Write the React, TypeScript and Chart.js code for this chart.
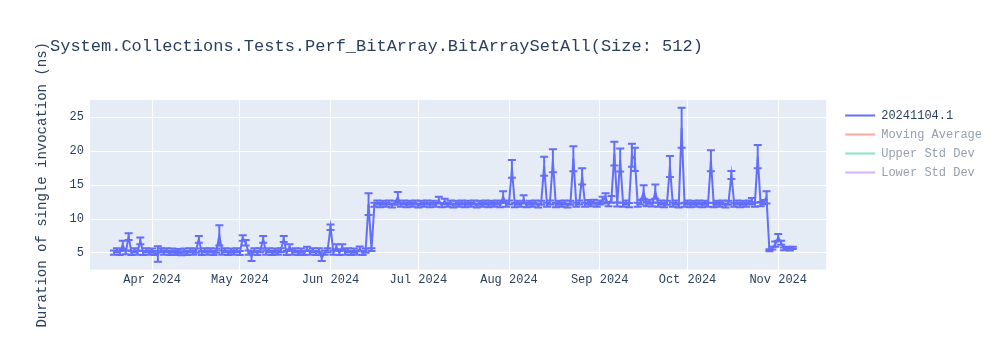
import React, { useEffect, useRef } from "react";
import { Chart, registerables } from "chart.js";

Chart.register(...registerables);

const FONT = "'Liberation Mono', 'Courier New', monospace";
const TEXT_COLOR = "#2a3f5f";

const chartTitle = "System.Collections.Tests.Perf_BitArray.BitArraySetAll(Size: 512)";
const yAxisTitle = "Duration of single invocation (ns)";

// one run per day, starting at this date
const firstRunDate = "2024-03-19";
const xRangeStart = "2024-03-10T19:12:00Z";
const xRangeEnd = "2024-11-17T09:36:00Z";

const monthTickDates = [
  "2024-04-01", "2024-05-01", "2024-06-01", "2024-07-01",
  "2024-08-01", "2024-09-01", "2024-10-01", "2024-11-01",
];
const monthTickLabels = [
  "Apr 2024", "May 2024", "Jun 2024", "Jul 2024",
  "Aug 2024", "Sep 2024", "Oct 2024", "Nov 2024",
];

const yMin = 2.55;
const yMax = 27.55;
const yTicks = [5, 10, 15, 20, 25];

// duration (ns) per daily run
const durations = [
  5.05, 5.4, 5.0, 6.2, 5.1, 7.4, 5.0, 5.4, 5.05, 6.8,
  5.0, 5.4, 5.05, 5.35, 5.0, 4.85, 5.4, 5.05, 5.4, 5.0,
  5.35, 5.0, 5.3, 4.95, 5.35, 5.0, 5.4, 5.05, 5.35, 7.0,
  5.0, 5.4, 5.05, 5.4, 5.0, 5.35, 7.6, 5.05, 5.4, 5.0,
  5.35, 5.05, 5.4, 5.0, 7.2, 6.5, 5.05, 4.5, 5.4, 5.0,
  5.4, 7.0, 5.05, 5.4, 5.0, 5.35, 5.05, 5.4, 7.05, 5.0,
  5.9, 5.05, 5.4, 5.0, 5.35, 5.0, 5.6, 5.05, 5.4, 5.0,
  5.4, 4.3, 5.05, 5.4, 8.8, 5.05, 5.9, 5.0, 5.9, 5.05,
  5.4, 5.0, 5.35, 5.05, 5.6, 5.0, 5.35, 12.2, 5.5,
  12.1, 12.45, 12.05, 12.4, 12.1, 12.45, 12.0, 12.4, 13.2, 12.1,
  12.45, 12.05, 12.4, 12.1, 12.45, 12.0, 12.4, 12.1, 12.45, 12.05,
  12.4, 12.1, 12.8, 12.05, 12.6, 12.1, 12.45, 12.0, 12.4, 12.1,
  12.45, 12.05, 12.4, 12.1, 12.45, 12.0, 12.4, 12.1, 12.45, 12.05,
  12.4, 12.1, 12.45, 12.05, 13.3, 12.1, 12.45, 17.4, 12.05, 12.4,
  12.1, 12.9, 12.05, 12.4, 12.1, 12.45, 12.0, 12.4, 17.8, 12.1,
  12.45, 18.6, 12.05, 12.4, 12.1, 12.45, 12.0, 12.4, 18.9, 12.1,
  12.45, 16.3, 12.1, 12.5, 12.2, 12.55, 12.1, 12.45, 12.8, 13.1,
  12.2, 12.9, 19.65, 12.15, 18.7, 12.1, 12.45, 12.05, 19.4, 18.8,
  12.1, 12.5, 14.0, 12.2, 12.55, 12.15, 14.05, 12.1, 12.45, 12.05,
  12.4, 17.75, 12.1, 12.45, 12.0, 23.45, 12.1, 12.45, 12.05, 12.4,
  12.1, 12.45, 12.05, 12.4, 12.1, 18.6, 12.05, 12.4, 12.1, 12.45,
  12.0, 12.4, 16.5, 12.1, 12.45, 12.05, 12.4, 12.1, 12.45, 12.7,
  12.1, 19.2, 12.2, 12.5, 13.2,
  5.4, 5.7, 6.3, 7.3, 6.5, 5.6, 5.75, 5.55, 5.75,
];

// standard deviation (error bar half-height) per daily run
const stdDevs = [
  0.3, 0.3, 0.3, 0.6, 0.3, 0.5, 0.3, 0.3, 0.3, 0.5,
  0.3, 0.3, 0.3, 0.3, 0.3, 1.15, 0.3, 0.3, 0.3, 0.3,
  0.3, 0.3, 0.3, 0.3, 0.3, 0.3, 0.3, 0.3, 0.3, 0.5,
  0.3, 0.3, 0.3, 0.3, 0.3, 0.3, 1.5, 0.3, 0.3, 0.3,
  0.3, 0.3, 0.3, 0.3, 0.4, 0.4, 0.3, 0.7, 0.3, 0.3,
  0.3, 0.5, 0.3, 0.3, 0.3, 0.3, 0.3, 0.3, 0.45, 0.3,
  0.4, 0.3, 0.3, 0.3, 0.3, 0.3, 0.3, 0.3, 0.3, 0.3,
  0.3, 0.5, 0.3, 0.3, 0.4, 0.3, 0.4, 0.3, 0.4, 0.3,
  0.3, 0.3, 0.3, 0.3, 0.35, 0.3, 0.3, 1.6, 0.2,
  0.3, 0.3, 0.3, 0.3, 0.3, 0.3, 0.3, 0.3, 0.8, 0.3,
  0.3, 0.3, 0.3, 0.3, 0.3, 0.3, 0.3, 0.3, 0.3, 0.3,
  0.3, 0.3, 0.5, 0.3, 0.4, 0.3, 0.3, 0.3, 0.3, 0.3,
  0.3, 0.3, 0.3, 0.3, 0.3, 0.3, 0.3, 0.3, 0.3, 0.3,
  0.3, 0.3, 0.3, 0.3, 0.8, 0.3, 0.3, 1.3, 0.3, 0.3,
  0.3, 0.6, 0.3, 0.3, 0.3, 0.3, 0.3, 0.3, 1.4, 0.3,
  0.3, 1.7, 0.3, 0.3, 0.3, 0.3, 0.3, 0.3, 1.85, 0.3,
  0.3, 1.2, 0.3, 0.3, 0.3, 0.3, 0.3, 0.3, 0.5, 0.7,
  0.3, 0.5, 1.75, 0.3, 1.7, 0.3, 0.3, 0.3, 1.7, 1.7,
  0.3, 0.3, 1.0, 0.3, 0.3, 0.3, 1.05, 0.3, 0.3, 0.3,
  0.3, 1.55, 0.3, 0.3, 0.3, 2.95, 0.3, 0.3, 0.3, 0.3,
  0.3, 0.3, 0.3, 0.3, 0.3, 1.55, 0.3, 0.3, 0.3, 0.3,
  0.3, 0.3, 0.6, 0.3, 0.3, 0.3, 0.3, 0.3, 0.3, 0.4,
  0.3, 1.7, 0.3, 0.3, 0.9,
  0.15, 0.2, 0.4, 0.5, 0.3, 0.2, 0.15, 0.2, 0.15,
];

const seriesNames = ["20241104.1", "Moving Average", "Upper Std Dev", "Lower Std Dev"];
const seriesColors = ["#636efa", "#ef553b", "#00cc96", "#ab63fa"];
const legendLineColors = ["#636efa", "#f7aa9d", "#80e6cb", "#d5b1fd"];
const legendTextColors = [TEXT_COLOR, "#959fae", "#959fae", "#959fae"];

const DAY_MS = 86400000;
const toMs = (s: string) => Date.parse(s.length === 10 ? s + "T00:00:00Z" : s);
const dayOffset = (s: string) => (toMs(s) - toMs(firstRunDate)) / DAY_MS;

const backgroundPlugin = {
  id: "plotBackground",
  beforeDraw(chart: any) {
    const { ctx, chartArea } = chart;
    ctx.save();
    ctx.fillStyle = "#e5ecf6";
    ctx.fillRect(chartArea.left, chartArea.top, chartArea.right - chartArea.left, chartArea.bottom - chartArea.top);
    ctx.restore();
  },
};

const errorBarPlugin = {
  id: "errorBars",
  afterDatasetsDraw(chart: any) {
    const { ctx, chartArea, scales } = chart;
    const xs = scales.x;
    const ys = scales.y;
    ctx.save();
    ctx.beginPath();
    ctx.rect(chartArea.left, chartArea.top, chartArea.right - chartArea.left, chartArea.bottom - chartArea.top);
    ctx.clip();
    ctx.strokeStyle = seriesColors[0];
    ctx.lineWidth = 2;
    durations.forEach((v, i) => {
      const e = stdDevs[i];
      const px = xs.getPixelForValue(i);
      const top = ys.getPixelForValue(v + e);
      const bot = ys.getPixelForValue(v - e);
      ctx.beginPath();
      ctx.moveTo(px, top);
      ctx.lineTo(px, bot);
      ctx.moveTo(px - 4, top);
      ctx.lineTo(px + 4, top);
      ctx.moveTo(px - 4, bot);
      ctx.lineTo(px + 4, bot);
      ctx.stroke();
    });
    ctx.restore();
  },
};

const titlePlugin = {
  id: "plotTitle",
  afterDraw(chart: any) {
    const { ctx } = chart;
    ctx.save();
    ctx.font = `17px ${FONT}`;
    ctx.fillStyle = TEXT_COLOR;
    ctx.textAlign = "left";
    ctx.textBaseline = "middle";
    ctx.fillText(chartTitle, 50, 46);
    ctx.restore();
  },
};

export default function App() {
  const canvasRef = useRef<HTMLCanvasElement>(null);

  useEffect(() => {
    const tickValues = monthTickDates.map(dayOffset);
    const points = durations.map((v, i) => ({ x: i, y: v }));

    const chart = new Chart(canvasRef.current as HTMLCanvasElement, {
      type: "line",
      data: {
        datasets: [
          {
            label: seriesNames[0],
            data: points,
            borderColor: seriesColors[0],
            backgroundColor: seriesColors[0],
            borderWidth: 2,
            pointRadius: 0,
            tension: 0,
          },
          ...seriesNames.slice(1).map((name, k) => ({
            label: name,
            data: [] as any[],
            borderColor: seriesColors[k + 1],
            backgroundColor: seriesColors[k + 1],
            borderWidth: 2,
            pointRadius: 0,
            hidden: true,
          })),
        ],
      },
      options: {
        animation: false,
        responsive: true,
        maintainAspectRatio: false,
        layout: { padding: { left: 20, top: 100, right: 8, bottom: 60 } },
        scales: {
          x: {
            type: "linear",
            min: dayOffset(xRangeStart),
            max: dayOffset(xRangeEnd),
            afterBuildTicks: (scale: any) => {
              scale.ticks = tickValues.map((v) => ({ value: v }));
            },
            grid: { color: "#ffffff", lineWidth: 1, drawTicks: false },
            border: { display: false },
            ticks: {
              autoSkip: false,
              maxRotation: 0,
              padding: 3,
              font: { family: FONT, size: 12 },
              color: TEXT_COLOR,
              callback: (_v: any, index: number) => monthTickLabels[index],
            },
          },
          y: {
            type: "linear",
            min: yMin,
            max: yMax,
            afterBuildTicks: (scale: any) => {
              scale.ticks = yTicks.map((v) => ({ value: v }));
            },
            grid: { color: "#ffffff", lineWidth: 1, drawTicks: false },
            border: { display: false },
            ticks: {
              padding: 6,
              font: { family: FONT, size: 12 },
              color: TEXT_COLOR,
              callback: (v: any) => String(v),
            },
            title: {
              display: true,
              text: yAxisTitle,
              font: { family: FONT, size: 14 },
              color: TEXT_COLOR,
              padding: { top: 13.6, bottom: 13.2 },
            },
          },
          legendGap: {
            type: "linear",
            position: "right",
            display: true,
            grid: { display: false, drawTicks: false },
            border: { display: false },
            ticks: { display: false },
            afterFit: (scale: any) => {
              scale.width = 12;
            },
          },
        },
        plugins: {
          title: { display: false },
          tooltip: { enabled: false },
          legend: {
            display: true,
            position: "right",
            align: "start",
            onClick: () => {},
            title: { display: true, text: " ", padding: 0, font: { size: 2 } },
            labels: {
              usePointStyle: true,
              pointStyleWidth: 30,
              padding: 7,
              font: { family: FONT, size: 12 },
              color: TEXT_COLOR,
              generateLabels: () =>
                seriesNames.map((name, i) => ({
                  text: name,
                  fillStyle: legendLineColors[i],
                  strokeStyle: legendLineColors[i],
                  lineWidth: 2,
                  pointStyle: "line",
                  hidden: false,
                  fontColor: legendTextColors[i],
                  datasetIndex: i,
                })),
            },
          },
        },
      } as any,
      plugins: [backgroundPlugin, errorBarPlugin, titlePlugin],
    });
    return () => chart.destroy();
  }, []);

  return (
    <div style={{ position: "fixed", left: 0, top: 0, width: 1000, height: 350, background: "#ffffff" }}>
      <canvas ref={canvasRef} />
    </div>
  );
}
